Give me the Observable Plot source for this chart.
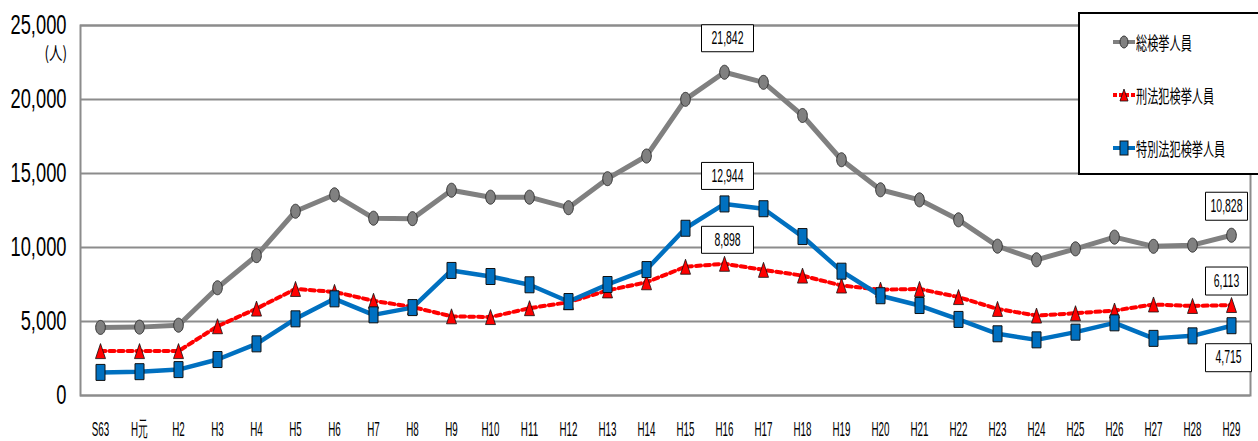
<!DOCTYPE html>
<html><head><meta charset="utf-8">
<script src="https://cdn.jsdelivr.net/npm/d3@7"></script>
<script src="https://cdn.jsdelivr.net/npm/@observablehq/plot@0.6"></script>
<style>
body{margin:0;background:#fff;}
#wrap{position:relative;width:1258px;height:441px;overflow:hidden;background:#fff;}
#wrap svg{display:block;}
#legend{position:absolute;left:1078px;top:12px;width:200px;height:163px;border:2px solid #000;background:#fff;box-sizing:border-box;}
.lg{position:absolute;left:33px;height:24px;display:flex;align-items:center;white-space:nowrap;}
.lg svg{flex:none;}
.lg span{display:inline-block;font-family:"Noto Sans CJK JP","Noto Sans",sans-serif;font-size:18px;line-height:24px;transform:scaleX(0.62);transform-origin:left center;color:#000;margin-left:1px;}
#unit{position:absolute;right:calc(1258px - 67px);top:42px;font-family:"Noto Sans CJK JP",sans-serif;font-size:18px;line-height:20px;transform:scaleX(0.75);transform-origin:right center;color:#000;}
</style></head>
<body><div id="wrap"></div>
<script>
// ---- data ----
const years = ["S63","H元","H2","H3","H4","H5","H6","H7","H8","H9","H10","H11","H12","H13","H14","H15","H16","H17","H18","H19","H20","H21","H22","H23","H24","H25","H26","H27","H28","H29"];
const total = [4600,4620,4750,7280,9450,12450,13560,11980,11950,13870,13400,13400,12690,14650,16180,20010,21842,21160,18920,15930,13900,13220,11870,10090,9170,9910,10700,10080,10160,10828];
const keihou = [3000,3000,3000,4680,5870,7200,7000,6400,5980,5350,5300,5900,6300,7100,7650,8700,8898,8490,8100,7430,7150,7200,6650,5850,5400,5560,5740,6150,6050,6113];
const tokubetsu = [1560,1610,1750,2430,3490,5180,6530,5450,5940,8450,8040,7480,6350,7500,8510,11300,12944,12620,10740,8400,6740,6080,5140,4170,3760,4280,4910,3860,4030,4715];
const seriesNames = ["総検挙人員","刑法犯検挙人員","特別法犯検挙人員"];
const yTicks = [0,5000,10000,15000,20000,25000];
const unitLabel = "(人)";

const rows = years.map((y,i)=>({year:y,total:total[i],keihou:keihou[i],tokubetsu:tokubetsu[i]}));

// ---- symbols ----
const K = 0.5523;
const ellipse = (rx,ry)=>({draw(c){c.moveTo(rx,0);c.bezierCurveTo(rx,ry*K,rx*K,ry,0,ry);c.bezierCurveTo(-rx*K,ry,-rx,ry*K,-rx,0);c.bezierCurveTo(-rx,-ry*K,-rx*K,-ry,0,-ry);c.bezierCurveTo(rx*K,-ry,rx,-ry*K,rx,0);c.closePath();}});
const tri = (rx,ry)=>({draw(c){c.moveTo(0,-ry);c.lineTo(rx,ry);c.lineTo(-rx,ry);c.closePath();}});
const box = (w,h)=>({draw(c){c.rect(-w/2,-h/2,w,h);}});

const GRAY="#808080", RED="#ff0000", BLUE="#0070c0";
const numFont = '"Liberation Sans Narrow","Liberation Sans","DejaVu Sans Condensed",sans-serif';

const annotations = [
  {key:"total", year:"H16", dx:3, dy:-34, w:52, h:27},
  {key:"tokubetsu", year:"H16", dx:3, dy:-28, w:52, h:27},
  {key:"keihou", year:"H16", dx:3, dy:-24, w:52, h:27},
  {key:"total", year:"H29", dx:-5, dy:-29, w:42, h:28},
  {key:"keihou", year:"H29", dx:-5, dy:-24, w:42, h:28},
  {key:"tokubetsu", year:"H29", dx:-3, dy:32, w:46, h:28}
];
const annMarks = [];
for (const a of annotations) {
  const r = rows.filter(d=>d.year===a.year);
  annMarks.push(Plot.dot(r,{x:"year",y:a.key,symbol:box(a.w,a.h),dx:a.dx,dy:a.dy,fill:"white",stroke:"black",strokeWidth:1}));
  annMarks.push(Plot.text(r,{x:"year",y:a.key,text:d=>d3.format(",")(d[a.key]),dx:a.dx,dy:a.dy,fontSize:18,fill:"black",fontFamily:numFont}));
}

const chart = Plot.plot({
  width:1258, height:441,
  marginLeft:80, marginRight:8, marginTop:25, marginBottom:46,
  style:{fontFamily:numFont, background:"#fff", color:"#000"},
  x:{type:"point", domain:years, padding:0.5},
  y:{domain:[0,25000]},
  marks:[
    Plot.ruleY(yTicks,{stroke:"#8c8c8c",strokeWidth:2}),
    Plot.frame({stroke:"#8c8c8c",strokeWidth:2}),
    Plot.axisY({ticks:yTicks, tickSize:0, tickPadding:14, tickFormat:d3.format(","), fontSize:27, label:null}),
    Plot.axisX({tickSize:0, tickPadding:26, fontSize:21, label:null}),
    Plot.line(rows,{x:"year",y:"total",stroke:GRAY,strokeWidth:5}),
    Plot.line(rows,{x:"year",y:"keihou",stroke:RED,strokeWidth:4,strokeDasharray:"5,4"}),
    Plot.line(rows,{x:"year",y:"tokubetsu",stroke:BLUE,strokeWidth:4.5}),
    Plot.dot(rows,{x:"year",y:"total",symbol:ellipse(4.8,7),fill:GRAY,stroke:"#333",strokeWidth:1}),
    Plot.dot(rows,{x:"year",y:"keihou",symbol:tri(5,7.5),fill:RED,stroke:"#111",strokeWidth:0.8}),
    Plot.dot(rows,{x:"year",y:"tokubetsu",symbol:box(9,16),fill:BLUE,stroke:"#111",strokeWidth:1}),
    ...annMarks
  ]
});

const wrap = document.getElementById("wrap");
wrap.appendChild(chart);

// squeeze text horizontally (reference uses a condensed face) via textLength
function squeeze(nodes, sample, targetW){
  if(!nodes.length) return;
  const probe = nodes.find(t=>t.textContent===sample) || nodes[0];
  const w = probe.getComputedTextLength();
  if(!w) return;
  const k = targetW / w;
  nodes.forEach(t=>{
    const L = t.getComputedTextLength();
    if (L > 0) {
      t.setAttribute("textLength", (L*k).toFixed(2));
      t.setAttribute("lengthAdjust", "spacingAndGlyphs");
    }
  });
}
const xt = Array.from(chart.querySelectorAll('g[aria-label="x-axis tick label"] text'));
const yt = Array.from(chart.querySelectorAll('g[aria-label="y-axis tick label"] text'));
const vt = Array.from(chart.querySelectorAll('g[aria-label="text"] text'));
squeeze(xt, "H10", 18);
squeeze(yt, "25,000", 56);
squeeze(vt, "21,842", 32);

// unit label
const unit = document.createElement("div");
unit.id = "unit"; unit.textContent = unitLabel;
wrap.appendChild(unit);

// legend
const legend = document.createElement("div");
legend.id = "legend";
const lgDefs = [
  {name:seriesNames[0], cy:42, color:GRAY, dash:null, w:4, shape:'<ellipse cx="11" cy="10" rx="4" ry="6" fill="#808080" stroke="#333" stroke-width="1"/>'},
  {name:seriesNames[1], cy:95, color:RED, dash:"4,2", w:4, shape:'<path d="M11,4 L15,16 L7,16 Z" fill="#ff0000" stroke="#111" stroke-width="0.8"/>'},
  {name:seriesNames[2], cy:148, color:BLUE, dash:null, w:4, shape:'<rect x="7" y="3" width="8" height="14" fill="#0070c0" stroke="#111" stroke-width="1"/>'}
];
for (const d of lgDefs) {
  const row = document.createElement("div");
  row.className = "lg";
  row.style.top = (d.cy - 12 - 14) + "px";
  row.innerHTML = `<svg width="22" height="20" viewBox="0 0 22 20"><line x1="0" x2="22" y1="10" y2="10" stroke="${d.color}" stroke-width="${d.w}" ${d.dash?`stroke-dasharray="${d.dash}"`:""}/>${d.shape}</svg><span>${d.name}</span>`;
  legend.appendChild(row);
}
wrap.appendChild(legend);
</script>
</body></html>
